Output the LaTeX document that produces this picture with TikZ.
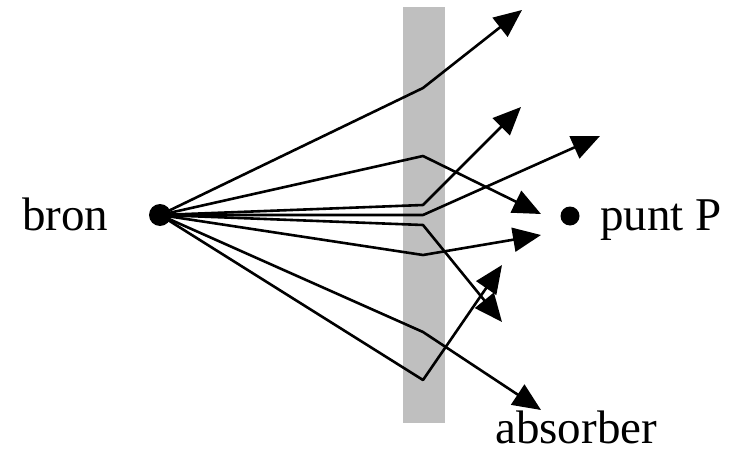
\documentclass[tikz,border=0pt]{standalone}
\usepackage{fontspec}
\setmainfont{Liberation Serif}
\usetikzlibrary{arrows.meta}
\begin{document}
\begin{tikzpicture}[x=1pt,y=-1pt,
  ray/.style={line width=2.6pt,line join=round,-{Triangle[length=28pt,width=24pt]}},
  dotnode/.style={circle,fill=black,inner sep=0pt,minimum size=22pt},
  lbl/.style={inner sep=0pt,anchor=base west,font=\fontsize{47}{50}\selectfont}]
\useasboundingbox (0,0) rectangle (731,452);
\fill[black!25] (403,7) rectangle (445,423);
\node[dotnode] (src) at (160,215) {};
\node[dotnode,minimum size=19pt] (P) at (570,216) {};
\node[lbl] (bron) at (22,230) {bron};
\node[lbl] (punt) at (600,230) {punt P};
\node[lbl] (abs) at (495,443) {absorber};
% bend points
\coordinate (b1) at (423,88);
\coordinate (b2) at (423,156);
\coordinate (b3) at (423,205);
\coordinate (b4) at (423,215);
\coordinate (b5) at (423,225);
\coordinate (b6) at (423,255);
\coordinate (b7) at (423,332);
\coordinate (b8) at (423,380);
% tips
\coordinate (t1) at (522,10);
\coordinate (t2) at (541,214);
\coordinate (t3) at (521,107);
\coordinate (t4) at (600,136);
\coordinate (t5) at (502,322);
\coordinate (t6) at (541,235);
\coordinate (t7) at (541,410);
\coordinate (t8) at (502,265);
\foreach \i in {1,...,8}{
  \draw[ray] (src.center) -- (b\i) -- (t\i);
}
\end{tikzpicture}
\end{document}
